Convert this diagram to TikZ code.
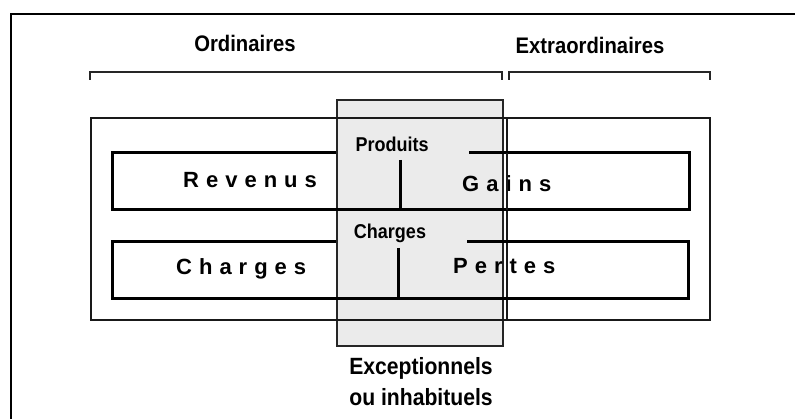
\documentclass[tikz,border=0pt]{standalone}
\usepackage{fontspec}
\setmainfont{Liberation Sans}
\newfontfamily\condf[FakeStretch=0.9]{Liberation Sans}
\newcommand\lsp{\kern7pt\relax}
\begin{document}
\begin{tikzpicture}[x=1pt,y=-1pt,line join=miter,
  head/.style={font=\condf\bfseries\fontsize{22.5}{24}\selectfont,inner sep=0pt,anchor=base},
  small/.style={font=\condf\bfseries\fontsize{20}{22}\selectfont,inner sep=0pt,anchor=base},
  big/.style={font=\bfseries\fontsize{22}{24}\selectfont,inner sep=0pt,anchor=base west},
  exctext/.style={font=\condf\bfseries\fontsize{23.5}{26}\selectfont,inner sep=0pt,anchor=base},
  frameline/.style={line width=2.2pt,black},
  bracket/.style={line width=1.8pt,black!85},
  region/.style={line width=2pt,black!90},
  inner/.style={line width=3pt,black},
  excbox/.style={draw=black!85,line width=1.8pt,fill=black!8,inner sep=0pt},
  ghost/.style={inner sep=0pt,outer sep=0pt}]
\useasboundingbox (0,0) rectangle (795,419);
% outer frame (cut by the picture edges)
\coordinate (fbl) at (11,425);
\coordinate (ftl) at (11,14);
\coordinate (ftr) at (800,14);
\draw[frameline] (fbl) -- (ftl) -- (ftr);
% headings and brackets
\node[head] (ordlbl) at (245,52) {Ordinaires};
\node[head] (extlbl) at (590,54) {Extraordinaires};
\coordinate (ob1) at (90,80); \coordinate (ob2) at (502,72);
\coordinate (eb1) at (509,80); \coordinate (eb2) at (710,72);
\draw[bracket] (ob1) -- (ob1 |- ob2) -- (ob2) -- (ob2 |- ob1);
\draw[bracket] (eb1) -- (eb1 |- eb2) -- (eb2) -- (eb2 |- eb1);
% exceptional (grey) box
\node[excbox,anchor=north west,minimum width=166pt,minimum height=246pt] (exc) at (336,99) {};
% region box with divider
\node[ghost,draw,region,anchor=north west,minimum width=619pt,minimum height=202pt] (reg) at (91,118) {};
\coordinate (div) at (507,118);
\draw[region] (div) -- (div |- reg.south);
% Revenus / Gains box
\node[ghost,anchor=north west,minimum width=577pt,minimum height=57pt] (rev) at (112,153) {};
\coordinate (revcut) at (469,153);
\draw[inner] (exc.west |- rev.north) -- (rev.north west) -- (rev.south west) -- (rev.south east) -- (rev.north east) -- (revcut);
\coordinate (pt1) at (400,160);
\draw[inner] (pt1) -- (pt1 |- rev.south);
% Charges / Pertes box
\node[ghost,anchor=north west,minimum width=576pt,minimum height=57pt] (cha) at (112,242) {};
\coordinate (chacut) at (467,242);
\draw[inner] (exc.west |- cha.north) -- (cha.north west) -- (cha.south west) -- (cha.south east) -- (cha.north east) -- (chacut);
\coordinate (pt2) at (398,248);
\draw[inner] (pt2) -- (pt2 |- cha.south);
% texts
\node[small] (prod) at (392,152) {Produits};
\node[small] (chs) at (390,239) {Charges};
\node[big] (revt) at (183,188) {R\lsp e\lsp v\lsp e\lsp n\lsp u\lsp s};
\node[big] (gaint) at (462,192) {G\lsp a\lsp i\lsp n\lsp s};
\node[big] (chat) at (176,275) {C\lsp h\lsp a\lsp r\lsp g\lsp e\lsp s};
\node[big] (pert) at (453,274) {P\lsp e\lsp r\lsp t\lsp e\lsp s};
\draw[region] (div |- rev.north) -- (div |- rev.south);
\node[exctext] (exct1) at (421,375) {Exceptionnels};
\node[exctext] (exct2) at (421,406) {ou inhabituels};
\end{tikzpicture}
\end{document}
